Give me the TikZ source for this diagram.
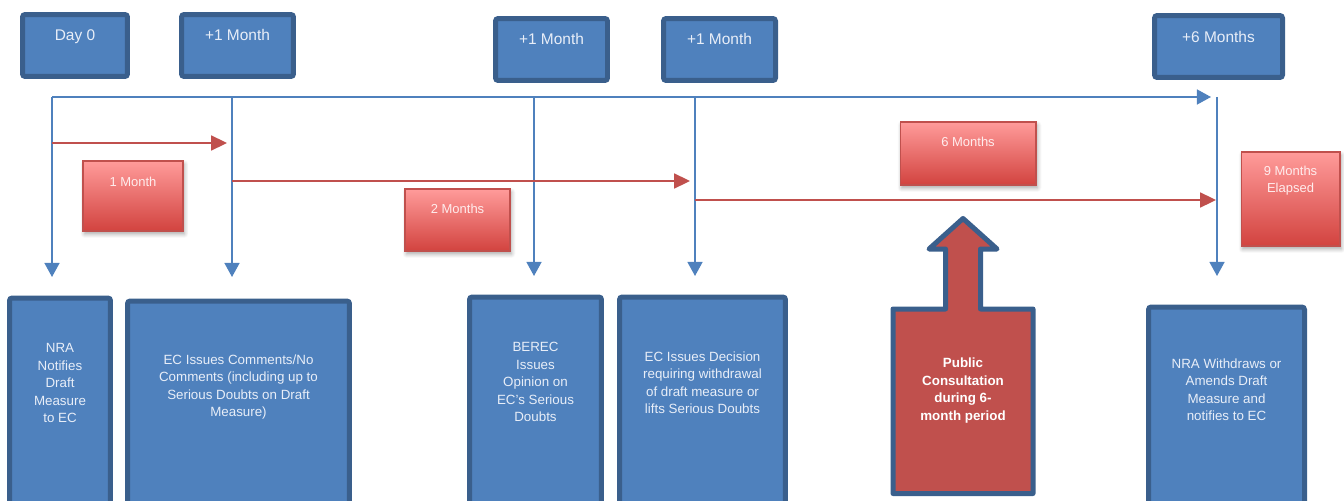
\documentclass[tikz,border=0pt]{standalone}
\usepackage{fontspec}
\setmainfont{Liberation Sans}
\usepackage{tikz}
\usetikzlibrary{positioning,arrows.meta,shadows.blur}
\definecolor{boxblue}{HTML}{4F81BD}
\definecolor{edgeblue}{HTML}{3A5F8C}
\definecolor{linered}{HTML}{C0504D}
\definecolor{redtop}{HTML}{FF9B9A}
\definecolor{redbottom}{HTML}{D2433F}
\definecolor{paletext}{HTML}{E8EEF8}
\definecolor{pinktext}{HTML}{FFEDED}

\begin{document}
\begin{tikzpicture}[
        x=0.02cm, y=-0.02cm,
        every node/.style={font=\small},
        stampbox/.style={rectangle, draw=edgeblue, fill=boxblue, line width=0.1cm, rounded corners=1.5pt, minimum width=2.24cm, minimum height=1.24cm, inner sep=0pt},
        stamptext/.style={font=\fontsize{8.8}{10.5}\selectfont, text=paletext, inner sep=0pt},
        eventbox/.style={rectangle, draw=edgeblue, fill=boxblue, line width=0.1cm, rounded corners=1.5pt, minimum height=4.3cm, anchor=north, inner sep=0pt},
        eventtext/.style={font=\fontsize{7.6}{10}\selectfont, text=paletext, align=center, inner sep=0pt},
        spanbox/.style={rectangle, draw=linered, line width=0.6pt, top color=redtop, bottom color=redbottom, blur shadow={shadow xshift=0.03cm, shadow yshift=-0.06cm, shadow blur steps=6, shadow blur radius=0.08cm, shadow opacity=35}, inner sep=0pt},
        spantext/.style={font=\fontsize{7.4}{10}\selectfont, text=pinktext, align=center, inner sep=0pt},
        tline/.style={draw=boxblue, line width=1pt, -{Triangle[length=8pt, width=8.5pt]}},
        rline/.style={draw=linered, line width=1pt, -{Triangle[length=9pt, width=8.5pt]}},
        consult/.style={draw=edgeblue, fill=linered, line width=0.1cm, line join=round},
        consulttext/.style={font=\fontsize{7.6}{10}\selectfont\bfseries, text=white, align=center, inner sep=0pt}
    ]
        \useasboundingbox (0,0) rectangle (1344,500);

        % Time stamps
        \node[stampbox, minimum width=2.1cm] (day0) at (75,45.5) {};
        \node[stamptext, below=0.34cm of day0.north] (day0text) {Day 0};
        \node[stampbox] (firstmonth) at (237.5,45.5) {};
        \node[stamptext, below=0.34cm of firstmonth.north] (firstmonthtext) {+1 Month};
        \node[stampbox] (secondmonth) at (551.5,49.5) {};
        \node[stamptext, below=0.34cm of secondmonth.north] (secondmonthtext) {+1 Month};
        \node[stampbox] (thirdmonth) at (719.5,49.5) {};
        \node[stamptext, below=0.34cm of thirdmonth.north] (thirdmonthtext) {+1 Month};
        \node[stampbox, minimum width=2.56cm] (sixmonths) at (1218.5,46.5) {};
        \node[stamptext, below=0.36cm of sixmonths.north] (sixmonthstext) {+6 Months};

        % Timeline
        \coordinate (t0) at (52,97);
        \coordinate (t1) at (232,97);
        \coordinate (t2) at (534,97);
        \coordinate (t3) at (695,97);
        \coordinate (t4) at (1217,97);
        \coordinate (tend) at (1211,97);
        \coordinate (a0) at (52,277);
        \coordinate (a1) at (232,277);
        \coordinate (a2) at (534,276);
        \coordinate (a3) at (695,276);
        \coordinate (a4) at (1217,276);
        \draw[tline] (t0) -- (tend);
        \foreach \i in {0,...,4}
            \draw[tline] (t\i) -- (a\i);

        % Periods
        \coordinate (s0) at (52,143);
        \coordinate (s1) at (227,143);
        \coordinate (s2) at (232,181);
        \coordinate (s3) at (690,181);
        \coordinate (s4) at (695,200);
        \coordinate (s5) at (1216,200);
        \draw[rline] (s0) -- (s1);
        \draw[rline] (s2) -- (s3);
        \draw[rline] (s4) -- (s5);

        \node[spanbox, minimum width=2cm, minimum height=1.4cm] (onemonth) at (133,196) {};
        \node[spantext, below=0.33cm of onemonth.north] (onemonthtext) {1 Month};
        \node[spanbox, minimum width=2.1cm, minimum height=1.24cm] (twomonths) at (457.5,220) {};
        \node[spantext, below=0.31cm of twomonths.north] (twomonthstext) {2 Months};
        \node[spanbox, minimum width=2.72cm, minimum height=1.26cm] (sixmonthspan) at (968,153.5) {};
        \node[spantext, below=0.30cm of sixmonthspan.north] (sixmonthspantext) {6 Months};
        \node[spanbox, minimum width=1.98cm, minimum height=1.88cm] (ninemonths) at (1290.5,199) {};
        \node[spantext, below=0.28cm of ninemonths.north] (ninemonthstext) {9 Months\\Elapsed};

        % Events
        \node[eventbox, minimum width=2.02cm] (nra) at (60,295.5) {};
        \node[eventtext, below=0.95cm of nra.north] (nratext) {NRA\\Notifies\\Draft\\Measure\\to EC};
        \node[eventbox, minimum width=4.44cm] (eccomments) at (238.5,298.5) {};
        \node[eventtext, below=1.11cm of eccomments.north] (eccommentstext) {EC Issues Comments/No\\Comments (including up to\\Serious Doubts on Draft\\Measure)};
        \node[eventbox, minimum width=2.64cm] (berec) at (535.5,294.5) {};
        \node[eventtext, below=0.95cm of berec.north] (berectext) {BEREC\\Issues\\Opinion on\\EC's Serious\\Doubts};
        \node[eventbox, minimum width=3.32cm] (ecdecision) at (702.5,294.5) {};
        \node[eventtext, below=1.13cm of ecdecision.north] (ecdecisiontext) {EC Issues Decision\\requiring withdrawal\\of draft measure or\\lifts Serious Doubts};
        \node[eventbox, minimum width=3.12cm] (nrawithdraw) at (1226.5,304.5) {};
        \node[eventtext, below=1.07cm of nrawithdraw.north] (nrawithdrawtext) {NRA Withdraws or\\Amends Draft\\Measure and\\notifies to EC};

        % Public consultation
        \draw[consult] (963,218.5) -- (997,249) -- (980.5,249) -- (980.5,309) -- (1033,309)
            -- (1033,493.5) -- (893,493.5) -- (893,309) -- (945.5,309) -- (945.5,249)
            -- (929,249) -- cycle;
        \node[consulttext] (pubcons) at (963,390.5) {Public\\Consultation\\during 6-\\month period};

    \end{tikzpicture}
\end{document}
